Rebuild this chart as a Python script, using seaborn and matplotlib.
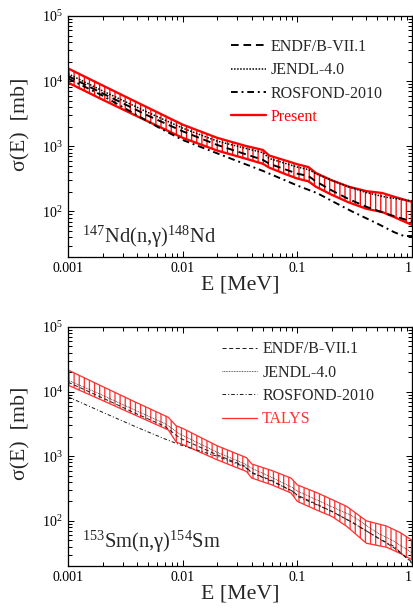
import numpy as np
import pandas as pd
import matplotlib
matplotlib.use("Agg")
import matplotlib.pyplot as plt
import seaborn as sns
from matplotlib.lines import Line2D
from matplotlib.ticker import LogLocator, FixedLocator, FixedFormatter, NullFormatter

# ---------------- data: 147Nd(n,g)148Nd ----------------
nd_band_E = [0.001, 0.002, 0.005, 0.01, 0.02, 0.035, 0.05, 0.057, 0.08, 0.1,
             0.125, 0.145, 0.2, 0.28, 0.4, 0.55, 0.7, 1.0]
nd_upper = [15700, 8600, 3900, 2150, 1350, 1020, 880, 720, 600, 530,
            480, 390, 300, 240, 205, 192, 168, 140]
nd_lower = [9500, 5200, 2400, 1350, 860, 650, 540, 470, 370, 320,
            290, 240, 180, 138, 110, 98, 82, 62]

nd_line_E = [0.001, 0.002, 0.005, 0.01, 0.02, 0.05, 0.057, 0.1, 0.125, 0.145,
             0.2, 0.28, 0.4, 0.6, 1.0]
nd_endf = [12000, 6500, 2950, 1700, 1050, 620, 540, 380, 350, 290,
           210, 155, 118, 92, 70]
nd_jendl = [13000, 7100, 3300, 1900, 1200, 800, 650, 480, 440, 380,
            300, 240, 195, 165, 145]
nd_ros_E = [0.001, 0.002, 0.004, 0.006, 0.01, 0.02, 0.05, 0.1, 0.15, 0.2,
            0.3, 0.5, 0.7, 0.85, 1.0]
nd_rosfond = [11000, 6000, 3000, 2000, 1250, 780, 420, 250, 190, 145,
              100, 65, 48, 42, 42]

# ---------------- data: 153Sm(n,g)154Sm ----------------
sm_band_E = [0.001, 0.002, 0.004, 0.0075, 0.0088, 0.01, 0.02, 0.036, 0.04,
             0.06, 0.088, 0.1, 0.15, 0.2, 0.27, 0.4, 0.6, 0.8, 1.0]
sm_upper = [21600, 12000, 6700, 4000, 2950, 2700, 1450, 950, 760,
            600, 460, 360, 270, 214, 167, 100, 83, 65, 50]
sm_lower = [12600, 7300, 4200, 2550, 1650, 1520, 880, 580, 460,
            360, 270, 200, 145, 117, 82, 45, 39, 31, 25]

sm_line_E = [0.001, 0.002, 0.004, 0.007, 0.0095, 0.02, 0.035, 0.04, 0.06,
             0.09, 0.1, 0.2, 0.3, 0.5, 0.7, 1.0]
sm_endf = [14000, 8000, 4500, 2900, 1900, 1050, 700, 560, 420,
           290, 250, 140, 95, 55, 38, 23]
sm_jendl = [15000, 8800, 5000, 3200, 2200, 1150, 760, 650, 470,
            330, 290, 165, 120, 65, 48, 32]
sm_rosfond = [8300, 4800, 2800, 1850, 1500, 1000, 680, 550, 410,
              290, 240, 140, 95, 55, 40, 22]

legend_labels = ["ENDF/B-VII.1", "JENDL-4.0", "ROSFOND-2010"]
x_ticks = [0.001, 0.01, 0.1, 1]
x_ticklabels = ["0.001", "0.01", "0.1", "1"]

# ---------------- style ----------------
sns.set_style("ticks")
plt.rcParams["font.family"] = ["Liberation Serif", "DejaVu Serif"]
plt.rcParams["mathtext.fontset"] = "custom"
plt.rcParams["mathtext.rm"] = "Liberation Serif"
plt.rcParams["mathtext.it"] = "Liberation Serif:italic"
plt.rcParams["mathtext.bf"] = "Liberation Serif:bold"
plt.rcParams["hatch.linewidth"] = 1.0

DPI = 92
fig = plt.figure(figsize=(413 / DPI, 610 / DPI), dpi=DPI)


def panel(rect, bE, up, lo, lE, endf, jendl, rE, rosf, band_label, reaction,
          band_color, band_lw, line_lw, line_color, leg_anchor, text_y, ylab_y):
    ax = fig.add_axes(rect)
    ax.set_xscale("log")
    ax.set_yscale("log")
    ax.fill_between(bE, lo, up, facecolor="none", edgecolor=band_color,
                    hatch="|||", lw=band_lw, zorder=2)
    sns.lineplot(x=lE, y=endf, ax=ax, color=line_color, lw=line_lw,
                 linestyle=(0, (4, 2.5)), label=legend_labels[0], zorder=3)
    sns.lineplot(x=lE, y=jendl, ax=ax, color=line_color, lw=line_lw * 0.8,
                 linestyle=(0, (1, 1)), label=legend_labels[1], zorder=3)
    sns.lineplot(x=rE, y=rosf, ax=ax, color=line_color, lw=line_lw,
                 linestyle=(0, (3.5, 2, 1, 2)), label=legend_labels[2], zorder=3)
    ax.set_xlim(0.001, 1)
    ax.set_ylim(20, 1e5)

    handles, labels = ax.get_legend_handles_labels()
    handles = handles[:3] + [Line2D([], [], color=band_color, lw=band_lw)]
    labels = labels[:3] + [band_label]
    leg = ax.legend(handles, labels, loc="upper right", bbox_to_anchor=leg_anchor,
                    frameon=False, fontsize=12.5, handlelength=2.2,
                    handletextpad=0.3, labelspacing=0.46, borderpad=0,
                    borderaxespad=0)
    leg.get_texts()[-1].set_color(band_color)

    ax.xaxis.set_major_locator(FixedLocator(x_ticks))
    ax.xaxis.set_major_formatter(FixedFormatter(x_ticklabels))
    ax.xaxis.set_minor_locator(LogLocator(base=10, subs=np.arange(2, 10), numticks=20))
    ax.xaxis.set_minor_formatter(NullFormatter())
    ax.yaxis.set_major_locator(LogLocator(base=10, numticks=10))
    ax.yaxis.set_minor_locator(LogLocator(base=10, subs=np.arange(2, 10), numticks=20))
    ax.yaxis.set_minor_formatter(NullFormatter())
    ax.tick_params(which="both", direction="in", top=True, right=True,
                   labelsize=11, colors="black", width=0.8, pad=4)
    ax.tick_params(which="major", length=5)
    ax.tick_params(which="minor", length=3)
    for s in ax.spines.values():
        s.set_linewidth(1.0)
        s.set_color("black")
    ax.set_xlabel("E [MeV]", fontsize=17, labelpad=0)
    ax.set_ylabel("σ(E)  [mb]", fontsize=17)
    ax.yaxis.set_label_coords(-0.11, ylab_y)
    ax.text(0.04, text_y, reaction, transform=ax.transAxes, fontsize=16,
            va="baseline", ha="left")
    fig.canvas.draw()
    ax.get_xticklabels()[-1].set_horizontalalignment("right")
    return ax


panel([68 / 413, 1 - 257 / 610, 344 / 413, 241 / 610],
      nd_band_E, nd_upper, nd_lower, nd_line_E, nd_endf, nd_jendl,
      nd_ros_E, nd_rosfond, "Present", r"$^{147}$Nd(n,γ)$^{148}$Nd",
      "#ff0000", 1.8, 1.5, "black", (0.915, 0.905), 0.058, 0.552)

panel([68 / 413, 1 - 566 / 610, 344 / 413, 239 / 610],
      sm_band_E, sm_upper, sm_lower, sm_line_E, sm_endf, sm_jendl,
      sm_line_E, sm_rosfond, "TALYS", r"$^{153}$Sm(n,γ)$^{154}$Sm",
      "#ff3030", 1.0, 0.8, "#222222", (0.89, 0.94), 0.075, 0.556)

fig.savefig("out.png", dpi=DPI)
